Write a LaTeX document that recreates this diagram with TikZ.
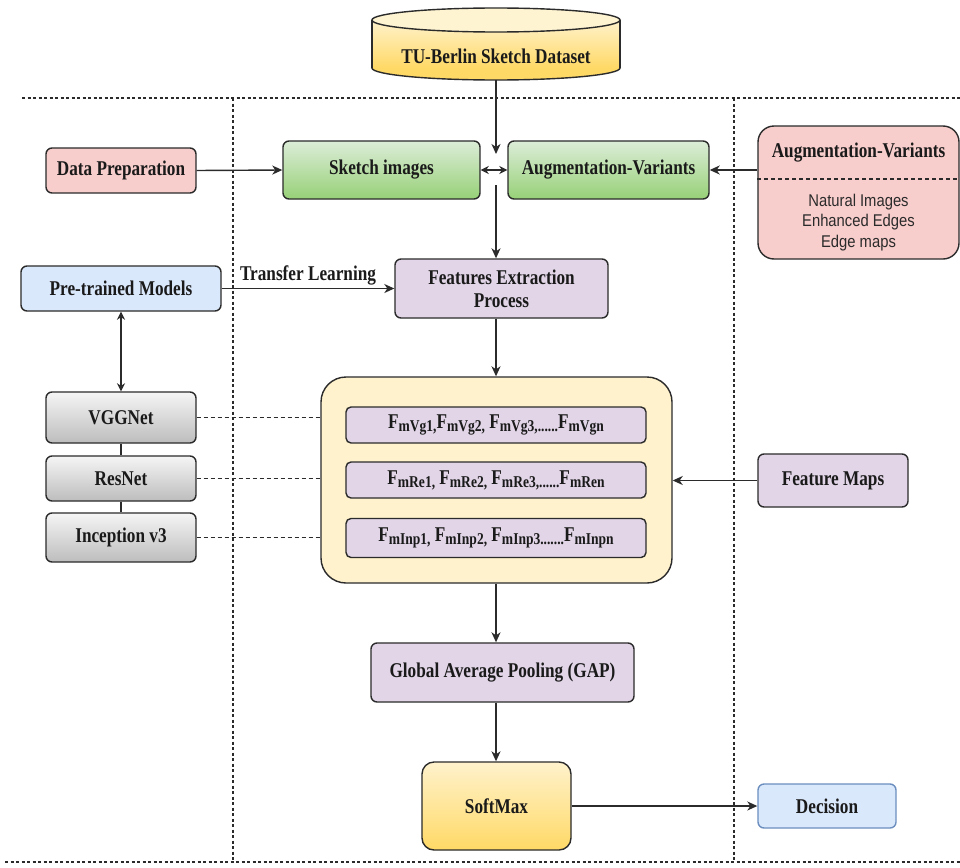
\documentclass[tikz,border=0pt]{standalone}
\usepackage{fontspec}
\setmainfont{Liberation Serif}[FakeStretch=0.82]
\newfontfamily\sansfam{Liberation Sans}[FakeStretch=0.87]
\usetikzlibrary{arrows.meta,calc}
\definecolor{linec}{HTML}{2B2B2B}
\definecolor{txt}{HTML}{1A1A1A}
\definecolor{pinkf}{HTML}{F8CECC}
\definecolor{greenT}{HTML}{DCEDD8}
\definecolor{greenB}{HTML}{97D077}
\definecolor{blueF}{HTML}{DAE8FC}
\definecolor{blueB}{HTML}{6C8EBF}
\definecolor{purpF}{HTML}{E1D5E7}
\definecolor{grayT}{HTML}{F5F5F5}
\definecolor{grayB}{HTML}{BDBDBD}
\definecolor{yelF}{HTML}{FFF2CC}
\definecolor{yelT}{HTML}{FFF2CC}
\definecolor{yelB}{HTML}{FFD966}
\definecolor{cylTop}{HTML}{FFF4D2}
\newcommand{\Fsub}[1]{F\raisebox{-3pt}{\fontsize{16.5}{16.5}\selectfont #1}}
\tikzset{
  lbl/.style={text=txt, font=\fontsize{21}{23}\selectfont\bfseries, align=center, inner sep=0pt},
  box/.style={lbl, draw=linec, line width=1.4pt, rounded corners=6pt},
  arr/.style={draw=linec, line width=1.4pt, -{Stealth[length=10pt,width=9pt,inset=3pt]}},
  darr/.style={draw=linec, line width=1.4pt, {Stealth[length=8pt,width=8pt,inset=2.5pt]}-{Stealth[length=8pt,width=8pt,inset=2.5pt]}},
  frame/.style={draw=linec, line width=1.1pt, dash pattern=on 3pt off 2.5pt},
  dlink/.style={draw=linec, line width=1.3pt, dash pattern=on 4pt off 3pt},
  slink/.style={draw=linec, line width=1.3pt},
  frow/.style={box, fill=purpF, minimum width=300, rounded corners=5pt},
  greenbox/.style={box, top color=greenT, bottom color=greenB},
  graybox/.style={box, top color=grayT, bottom color=grayB, minimum width=150},
}
\begin{document}
\begin{tikzpicture}[x=1pt,y=-1pt]
\useasboundingbox (0,0) rectangle (960,867);
\fill[white] (0,0) rectangle (960,867);

% frame
\draw[frame] (22,98) -- (960,98);
\draw[frame] (5,862) -- (960,862);
\draw[frame] (233,98) -- (233,862);
\draw[frame] (734,98) -- (734,862);

% cylinder
\fill[top color=yelT, bottom color=yelB] (372,20) rectangle (620,68);
\begin{scope}
  \clip (360,68) rectangle (640,95);
  \fill[yelB] (496,68) ellipse[x radius=124, y radius=12];
  \draw[linec, line width=1.4pt] (496,68) ellipse[x radius=124, y radius=12];
\end{scope}
\draw[linec, line width=1.4pt] (372,20) -- (372,68) (620,20) -- (620,68);
\filldraw[fill=cylTop, draw=linec, line width=1.4pt] (496,20) ellipse[x radius=124, y radius=12];
\node[lbl] (ds) at (496,56) {TU-Berlin Sketch Dataset};
\coordinate (dsb) at (496,80);
\coordinate (jt) at (496,154);
\coordinate (jb) at (496,185);

% row 1
\node[box, fill=pinkf, minimum width=150, minimum height=45] (dp) at (121,170.5) {Data Preparation};
\node[greenbox, minimum width=197, minimum height=58] (sk) at (381.5,170) {Sketch images};
\node[greenbox, minimum width=201, minimum height=58] (av) at (608.5,170) {Augmentation-Variants};

\node[box, fill=pinkf, minimum width=201, minimum height=133, rounded corners=16pt] (avp) at (858.5,192.5) {};
\draw[dlink, line width=1.1pt] (avp.west |- 0,179) -- (avp.east |- 0,179);
\node[lbl] (avh) at (858.5,153) {Augmentation-Variants};
\node[text=linec, font=\sansfam\fontsize{17}{20.5}\selectfont, align=center, inner sep=0pt] (avl) at (858.5,222.5) {Natural Images\\Enhanced Edges\\Edge maps};

% row 2
\node[box, fill=blueF, minimum width=200, minimum height=45] (pt) at (121,288.5) {Pre-trained Models};
\node[box, fill=purpF, minimum width=213, minimum height=59] (fe) at (501.5,288.5) {Features Extraction\\Process};

% models
\node[graybox, minimum height=51] (vgg) at (121,417.5) {VGGNet};
\node[graybox, minimum height=45] (res) at (121,478.5) {ResNet};
\node[graybox, minimum height=49] (inc) at (121,537.5) {Inception v3};

% feature maps container
\node[box, fill=yelF, minimum width=351, minimum height=206, rounded corners=25pt] (yb) at (496.5,480) {};
\node[frow, minimum height=36] (r1) at (496,425) {\Fsub{mVg1,}\Fsub{mVg2,} \Fsub{mVg3,......}\Fsub{mVgn}};
\node[frow, minimum height=36] (r2) at (496,480) {\Fsub{mRe1,} \Fsub{mRe2,} \Fsub{mRe3,......}\Fsub{mRen}};
\node[frow, minimum height=39] (r3) at (496,538) {\Fsub{mInp1,} \Fsub{mInp2,} \Fsub{mInp3.......}\Fsub{mInpn}};

\node[box, fill=purpF, minimum width=150, minimum height=53] (fm) at (833,480.5) {Feature Maps};

% bottom
\node[box, fill=purpF, minimum width=263, minimum height=59] (gap) at (502.5,672.5) {Global Average Pooling (GAP)};
\node[box, top color=yelT, bottom color=yelB, minimum width=149, minimum height=88, rounded corners=12pt] (sm) at (496.5,806) {SoftMax};
\node[box, draw=blueB, fill=blueF, minimum width=138, minimum height=44] (dec) at (827,806) {Decision};

% connectors
\draw[arr] (dsb) -- (jt);
\draw[darr] (sk.east) -- (av.west);
\draw[arr] (jb) -- (jb |- fe.north);
\draw[arr] (dp.east) -- (sk.west);
\draw[arr] (avp.west |- av.east) -- (av.east);
\draw[arr] (pt.east) -- node[lbl, above=3pt, pos=0.5] (tl) {Transfer Learning} (fe.west |- pt.east);
\draw[darr] (pt.south) -- (vgg.north);
\draw[slink] (vgg.south) -- (res.north);
\draw[slink] (res.south) -- (inc.north);
\draw[dlink] (vgg.east) -- (vgg.east -| yb.west);
\draw[dlink] (res.east) -- (res.east -| yb.west);
\draw[dlink] (inc.east) -- (inc.east -| yb.west);
\draw[arr] (jb |- fe.south) -- (jb |- yb.north);
\draw[arr] (fm.west) -- (fm.west -| yb.east);
\draw[arr] (jb |- yb.south) -- (jb |- gap.north);
\draw[arr] (jb |- gap.south) -- (jb |- sm.north);
\draw[arr] (sm.east) -- (dec.west);
\end{tikzpicture}
\end{document}
